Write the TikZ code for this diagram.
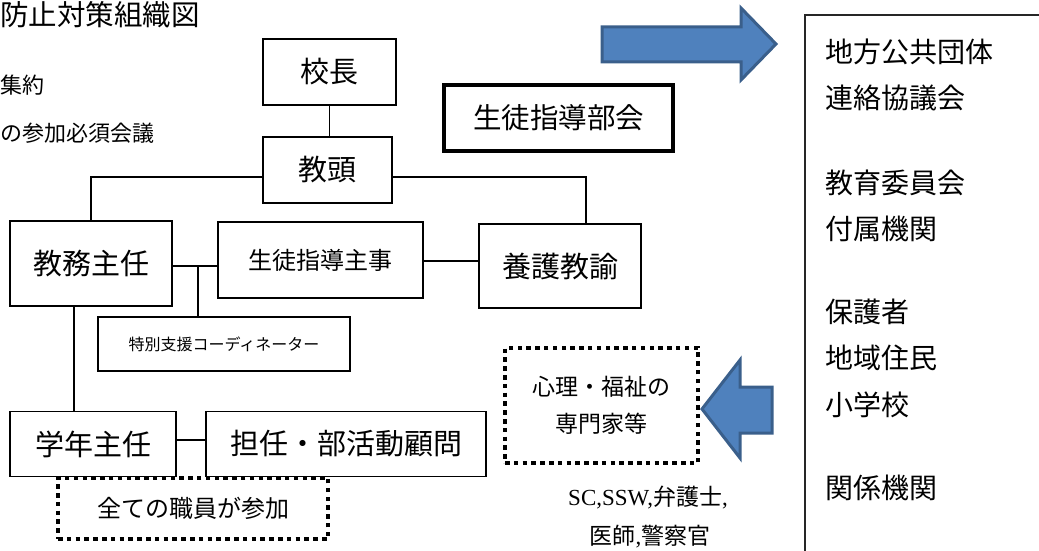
\documentclass[tikz,border=0pt]{standalone}
\usepackage{fontspec}
\setmainfont{Liberation Serif}
\newfontfamily\jp{Noto Sans CJK JP}
\usetikzlibrary{
    positioning
    }

\definecolor{arrowfill}{HTML}{4F81BD}
\definecolor{arrowdraw}{HTML}{3A5F8B}

\begin{document}
\begin{tikzpicture}[x=1pt, y=-1pt]
% chktex-file 1
\tikzset{post/.style =
        {
            rectangle,
            draw,
            line width=1.2pt,
            inner sep=0pt,
            font=\jp\fontsize{29}{34}\selectfont
        }
}

\tikzset{council/.style =
        {
            post,
            line width=4.5pt,
            font=\jp\fontsize{28.5}{34}\selectfont
        }
}

\tikzset{group/.style =
        {
            rectangle,
            draw,
            line width=4.5pt,
            dash pattern=on 4.5pt off 4.3pt,
            inner sep=0pt,
            align=center,
            font=\jp\fontsize{23}{37}\selectfont
        }
}

\tikzset{note/.style =
        {
            inner sep=0pt,
            font=\jp\fontsize{22}{26}\selectfont
        }
}

\tikzset{outside/.style =
        {
            inner sep=0pt,
            anchor=west,
            font=\jp\fontsize{28}{32}\selectfont
        }
}

\tikzset{link/.style = { line width=1.2pt } }

\tikzset{block arrow/.style =
        {
            line width=3pt,
            line join=miter,
            draw=arrowdraw,
            fill=arrowfill
        }
}

\useasboundingbox (0,0) rectangle (1039,551);

% title and notes at the left edge
\node[note, anchor=west, font=\jp\fontsize{28.5}{32}\selectfont] (title) at (0,15) {防止対策組織図};
\node[note, anchor=west] (note1) at (0,85) {集約};
\node[note, anchor=west] (note2) at (0,133) {の参加必須会議};

% school staff
\node[post, minimum width=133pt, minimum height=66pt] (kocho) at (329.5,72) {校長};
\node[post, minimum width=129pt, minimum height=66pt] (kyoto) at (327.5,170) {教頭};
\node[council, minimum width=229pt, minimum height=66pt] (bukai) at (558.5,118) {生徒指導部会};
\node[post, minimum width=162pt, minimum height=85pt] (kyomu) at (91,263.5) {教務主任};
\node[post, minimum width=205pt, minimum height=76pt, font=\jp\fontsize{24}{28}\selectfont] (shido) at (320.5,260) {生徒指導主事};
\node[post, minimum width=162pt, minimum height=84pt] (yogo) at (560,266) {養護教諭};
\node[post, minimum width=252pt, minimum height=54pt, font=\jp\fontsize{16}{20}\selectfont] (tokubetsu) at (224,344) {特別支援コーディネーター};
\node[post, minimum width=166pt, minimum height=65pt] (gakunen) at (93,444) {学年主任};
\node[post, minimum width=280pt, minimum height=65pt] (tannin) at (346,444) {担任・部活動顧問};

\node[group, minimum width=270pt, minimum height=61pt, font=\jp\fontsize{24}{28}\selectfont] (zenin) at (193,508.5) {全ての職員が参加};
\node[group, minimum width=193pt, minimum height=115pt] (senmon) at (601.5,405.5) {心理・福祉の\\専門家等};

\node[note, font=\rmfamily\fontsize{23}{26}\selectfont] (sc) at (648,498) {SC,SSW,{\jp 弁護士},};
\node[note, font=\jp\fontsize{23}{26}\selectfont] (ishi) at (650,537) {医師{\rmfamily ,}警察官};

% connectors
\coordinate (tee) at (198,266);
\draw[link] (kocho.south) -- (kocho.south |- kyoto.north);
\draw[link] ([yshift=-7pt]kyoto.west) -| (kyomu.north);
\draw[link] ([yshift=-7pt]kyoto.east) -| ([xshift=26pt]yogo.north);
\draw[link] (kyomu.east |- tee) -- (shido.west |- tee);
\draw[link] (tee) -- (tee |- tokubetsu.north);
\draw[link] ([yshift=5pt]yogo.west) -- ([yshift=5pt]yogo.west -| shido.east);
\draw[link] ([xshift=-17pt]kyomu.south) -- ([xshift=-17pt]kyomu.south |- gakunen.north);
\draw[link] ([yshift=4pt]gakunen.east) -- ([yshift=4pt]gakunen.east -| tannin.west);

% outside partners
\draw[line width=1.5pt, draw=black!85] (1050,15) -- (805,15) -- (805,560);
\foreach \name / \y / \txt in
    {chiho/52/地方公共団体,
        renraku/98/連絡協議会,
        kyoiku/183/教育委員会,
        fuzoku/229/付属機関,
        hogo/312/保護者,
        chiiki/358/地域住民,
        shogaku/405/小学校,
        kankei/488/関係機関}
\node[outside] (\name) at (825,\y) {\txt};

% block arrows
\draw[block arrow] (602,27) -- (741,27) -- (741,8) -- (776,44) -- (741,80) -- (741,62) -- (602,62) -- cycle;
\draw[block arrow] (772,387) -- (740,387) -- (740,360) -- (702,409) -- (740,458) -- (740,433) -- (772,433) -- cycle;

\end{tikzpicture}
\end{document}
